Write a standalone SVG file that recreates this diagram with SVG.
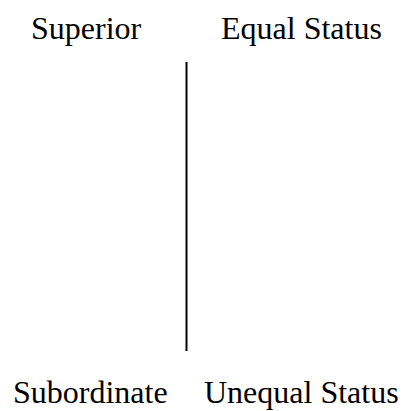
<svg xmlns="http://www.w3.org/2000/svg" width="403" height="411" viewBox="0 0 403 411">
<style>
.t{font-family:"Liberation Serif","Times New Roman",serif;font-size:32px;fill:#000}
</style>
<rect width="403" height="411" fill="#fff"/>
<g id="superior"><text class="t" x="31" y="38.5">Superior</text></g>
<g id="equal-status"><text class="t" x="221" y="38.5">Equal Status</text></g>
<g id="subordinate"><text class="t" x="13" y="403">Subordinate</text></g>
<g id="unequal-status"><text class="t" x="204" y="403">Unequal Status</text></g>
<g id="connectors"><line x1="186.5" y1="62" x2="186.5" y2="351" stroke="#000" stroke-width="2"/></g>
</svg>
